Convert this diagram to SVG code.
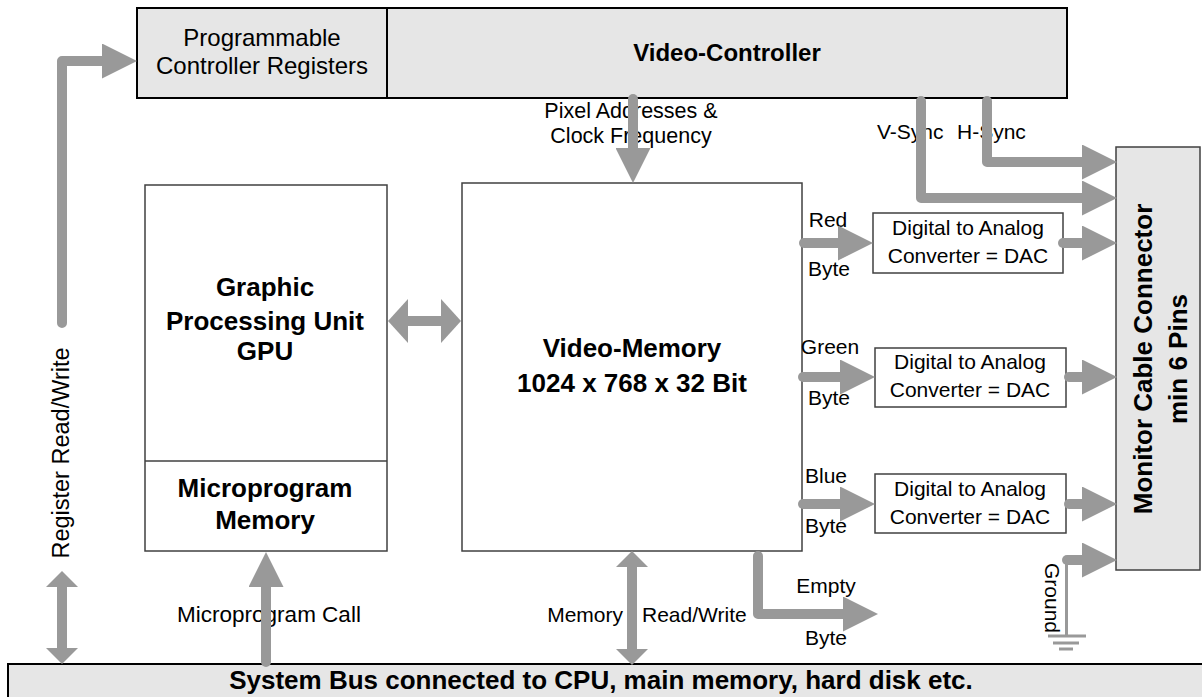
<svg xmlns="http://www.w3.org/2000/svg" width="1202" height="697" viewBox="0 0 1202 697">
  <style>
    text { font-family: "Liberation Sans", Arial, Helvetica, sans-serif; fill: #000; }
    .b { font-weight: bold; font-size: 26px; }
    .r { font-size: 21px; }
    .mid { text-anchor: middle; }
    .shade { fill: #e6e6e6; stroke: #000; stroke-width: 2; }
    .plain { fill: #fff; stroke: #404040; stroke-width: 1.5; }
    .grey { fill: #e6e6e6; stroke: #404040; stroke-width: 1.5; }
    .bus { fill: none; stroke: #999; stroke-width: 10; stroke-linecap: round; stroke-linejoin: round; }
    .thin { fill: none; stroke: #999; stroke-width: 3; }
  </style>
  <defs>
    <!-- standard wide arrowhead, drawn forward from the end of the shaft -->
    <marker id="head" markerUnits="userSpaceOnUse" markerWidth="35" markerHeight="35" viewBox="0 0 35 35" refX="0" refY="17.5" orient="auto">
      <path d="M0,0 L35,17.5 L0,35 z" fill="#999"/>
    </marker>
    <!-- short head used on the two-way bus arrows -->
    <marker id="dhead" markerUnits="userSpaceOnUse" markerWidth="16" markerHeight="32" viewBox="0 0 16 32" refX="0" refY="16" orient="auto-start-reverse">
      <path d="M0,0 L16,16 L0,32 z" fill="#999"/>
    </marker>
    <!-- heavy head for the GPU / memory link -->
    <marker id="whead" markerUnits="userSpaceOnUse" markerWidth="20" markerHeight="44" viewBox="0 0 20 44" refX="0" refY="22" orient="auto-start-reverse">
      <path d="M0,0 L20,22 L0,44 z" fill="#999"/>
    </marker>
  </defs>

  <rect width="1202" height="697" fill="#fff"/>

  <!-- nodes -->
  <g id="registers">
    <rect class="shade" x="137" y="8" width="250" height="90"/>
    <text class="mid" x="262" y="46" font-size="24">Programmable</text>
    <text class="mid" x="262" y="74" font-size="24">Controller Registers</text>
  </g>
  <g id="video-controller">
    <rect class="shade" x="387" y="8" width="680" height="90"/>
    <text class="mid" x="727" y="61" font-weight="bold" font-size="24">Video-Controller</text>
  </g>
  <g id="gpu">
    <rect class="plain" x="145" y="185" width="242" height="366"/>
    <text class="b mid" x="265" y="296">Graphic</text>
    <text class="b mid" x="265" y="330">Processing Unit</text>
    <text class="b mid" x="265" y="360">GPU</text>
  </g>
  <g id="microprogram-memory">
    <line x1="145" y1="461" x2="387" y2="461" stroke="#404040" stroke-width="1.5"/>
    <text class="b mid" x="265" y="497">Microprogram</text>
    <text class="b mid" x="265" y="529">Memory</text>
  </g>
  <g id="video-memory">
    <rect class="plain" x="462" y="183" width="340" height="368"/>
    <text class="b mid" x="632" y="357">Video-Memory</text>
    <text class="b mid" x="632" y="392">1024 x 768 x 32 Bit</text>
  </g>
  <g id="dac-red">
    <rect class="plain" x="873" y="213" width="190" height="60"/>
    <text class="r mid" x="968" y="235">Digital to Analog</text>
    <text class="r mid" x="968" y="263">Converter = DAC</text>
  </g>
  <g id="dac-green">
    <rect class="plain" x="875" y="348" width="191" height="59"/>
    <text class="r mid" x="970" y="369">Digital to Analog</text>
    <text class="r mid" x="970" y="397">Converter = DAC</text>
  </g>
  <g id="dac-blue">
    <rect class="plain" x="875" y="474" width="191" height="59"/>
    <text class="r mid" x="970" y="496">Digital to Analog</text>
    <text class="r mid" x="970" y="524">Converter = DAC</text>
  </g>
  <g id="monitor-connector">
    <rect class="grey" x="1116" y="147" width="84" height="423"/>
    <text class="b mid" transform="translate(1152,359) rotate(-90)">Monitor Cable Connector</text>
    <text class="b mid" transform="translate(1187,359) rotate(-90)">min 6 Pins</text>
  </g>
  <g id="system-bus">
    <rect class="shade" x="8" y="664" width="1200" height="40"/>
    <text class="b mid" x="601" y="689">System Bus connected to CPU, main memory, hard disk etc.</text>
  </g>

  <!-- connector labels -->
  <g id="labels">
    <text class="mid" transform="translate(69,453) rotate(-90)" font-size="23.5">Register Read/Write</text>
    <text class="mid" x="631" y="118" font-size="21.5">Pixel Addresses &amp;</text>
    <text class="mid" x="631" y="143" font-size="21.5">Clock Frequency</text>
    <text class="r" x="877" y="139">V-Sync</text>
    <text class="r" x="957" y="139">H-Sync</text>
    <text class="mid" x="269" y="622" font-size="22.5">Microprogram Call</text>
    <text class="r" x="623" y="622" text-anchor="end">Memory</text>
    <text class="r" x="642" y="622">Read/Write</text>
    <text class="r mid" x="828" y="227">Red</text>
    <text class="r mid" x="829" y="276">Byte</text>
    <text class="r mid" x="830" y="354">Green</text>
    <text class="r mid" x="829" y="405">Byte</text>
    <text class="r mid" x="826" y="483">Blue</text>
    <text class="r mid" x="826" y="533">Byte</text>
    <text class="r mid" x="826" y="593">Empty</text>
    <text class="r mid" x="826" y="645">Byte</text>
    <text class="r" transform="translate(1045,563) rotate(90)">Ground</text>
  </g>

  <!-- connectors -->
  <g id="connectors">
    <path class="bus" d="M62,323 L62,61 L102,61" marker-end="url(#head)"/>
    <path class="bus" d="M62,587 L62,648" stroke-linecap="butt" marker-start="url(#dhead)" marker-end="url(#dhead)"/>
    <path class="bus" d="M633,99 L633,148" marker-end="url(#head)"/>
    <path class="bus" d="M408,321 L441,321" stroke-width="15" stroke-linecap="butt" marker-start="url(#whead)" marker-end="url(#whead)"/>
    <path class="bus" d="M266,662 L266,587" marker-end="url(#head)"/>
    <path class="bus" d="M632,567 L632,649" stroke-linecap="butt" marker-start="url(#dhead)" marker-end="url(#dhead)"/>
    <path class="bus" d="M758,556 L758,614 L843,614" marker-end="url(#head)"/>
    <path class="bus" d="M921,101 L921,198 L1082,198" marker-end="url(#head)"/>
    <path class="bus" d="M987,101 L987,162 L1082,162" marker-end="url(#head)"/>
    <path class="bus" d="M804,243 L838,243" marker-end="url(#head)"/>
    <path class="bus" d="M1063,243 L1082,243" marker-end="url(#head)"/>
    <path class="bus" d="M803,377 L840,377" marker-end="url(#head)"/>
    <path class="bus" d="M1069,377 L1082,377" marker-end="url(#head)"/>
    <path class="bus" d="M803,504 L840,504" marker-end="url(#head)"/>
    <path class="bus" d="M1069,504 L1082,504" marker-end="url(#head)"/>
    <path class="bus" d="M1067,560 L1082,560" marker-end="url(#head)"/>
    <!-- ground lead and earth symbol -->
    <line class="thin" x1="1066.5" y1="560" x2="1066.5" y2="636"/>
    <line class="thin" x1="1048" y1="636" x2="1086" y2="636"/>
    <line class="thin" x1="1053" y1="643" x2="1079" y2="643"/>
    <line class="thin" x1="1059" y1="649" x2="1073" y2="649"/>
  </g>
</svg>
